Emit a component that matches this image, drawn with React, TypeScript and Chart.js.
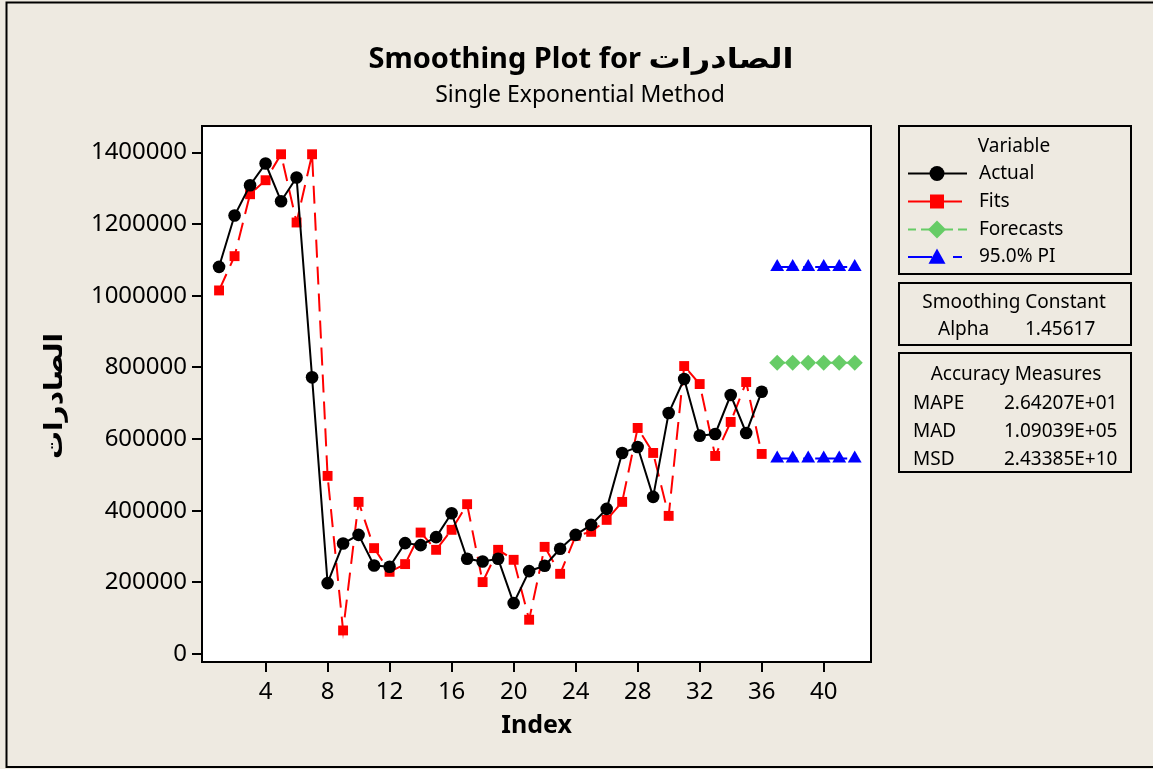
import React, { useEffect, useRef } from 'react';
import { Chart, registerables } from 'chart.js';

Chart.register(...registerables);

// ---------- data ----------
const actualIndex = [1, 2, 3, 4, 5, 6, 7, 8, 9, 10, 11, 12, 13, 14, 15, 16, 17, 18, 19, 20, 21, 22, 23, 24, 25, 26, 27, 28, 29, 30, 31, 32, 33, 34, 35, 36];
const actualValues = [1081000, 1224300, 1308800, 1369300, 1264200, 1330300, 772500, 198000, 308400, 332700, 247100, 243500, 309600, 304000, 326300, 393200, 265800, 258200, 265800, 142200, 231500, 246300, 293700, 332700, 360600, 405200, 561400, 578100, 438700, 672900, 767800, 609600, 614400, 723100, 617200, 732400];
const fitsValues = [1015100, 1110800, 1283700, 1322800, 1395300, 1204800, 1395300, 497300, 65800, 424700, 295600, 229500, 251000, 339100, 290900, 346700, 418300, 200800, 290900, 263000, 95700, 299200, 223900, 329900, 341100, 374500, 424700, 631100, 561400, 385700, 804000, 753800, 553000, 647900, 759400, 558600];
const forecastIndex = [37, 38, 39, 40, 41, 42];
const forecastValues = [813200, 813200, 813200, 813200, 813200, 813200];
const upperPIValues = [1080500, 1080500, 1080500, 1080500, 1080500, 1080500];
const lowerPIValues = [545900, 545900, 545900, 545900, 545900, 545900];
const xTicks = [4, 8, 12, 16, 20, 24, 28, 32, 36, 40];
const yTicks = [0, 200000, 400000, 600000, 800000, 1000000, 1200000, 1400000];

const titleLatin = 'Smoothing Plot for ';
const titleArabic = 'الصادرات';
const subtitleText = 'Single Exponential Method';
const yTitle = 'الصادرات';
const xTitle = 'Index';
const legendNames = ['Actual', 'Fits', 'Forecasts', '95.0% PI'];
const accuracyNames = ['MAPE', 'MAD', 'MSD'];
const accuracyValues = ['2.64207E+01', '1.09039E+05', '2.43385E+10'];
const alphaValue = '1.45617';

// ---------- style ----------
const FONT = "'Noto Sans', 'DejaVu Sans', sans-serif";
const BG = '#EEEAE1';
const RED = '#FF0000';
const GREEN = '#66CC66';
const BLUE = '#0000FF';

type MarkerKind = 'circle' | 'square' | 'diamond' | 'triangle';

function drawMarker(ctx: CanvasRenderingContext2D, kind: MarkerKind, x: number, y: number, s: number, color: string) {
  ctx.save();
  ctx.fillStyle = color;
  ctx.beginPath();
  if (kind === 'circle') {
    ctx.arc(x, y, s, 0, Math.PI * 2);
  } else if (kind === 'square') {
    ctx.rect(x - s, y - s, 2 * s, 2 * s);
  } else if (kind === 'diamond') {
    ctx.moveTo(x, y - s);
    ctx.lineTo(x + s, y);
    ctx.lineTo(x, y + s);
    ctx.lineTo(x - s, y);
    ctx.closePath();
  } else {
    ctx.moveTo(x, y - s);
    ctx.lineTo(x + s, y + s * 0.8);
    ctx.lineTo(x - s, y + s * 0.8);
    ctx.closePath();
  }
  ctx.fill();
  ctx.restore();
}

function legendLine(ctx: CanvasRenderingContext2D, segs: Array<[number, number]>, y: number, color: string) {
  ctx.save();
  ctx.strokeStyle = color;
  ctx.lineWidth = 2;
  ctx.beginPath();
  for (const [a, b] of segs) {
    ctx.moveTo(a, y);
    ctx.lineTo(b, y);
  }
  ctx.stroke();
  ctx.restore();
}

const decorPlugin = {
  id: 'decor',
  beforeDraw(chart: any) {
    const { ctx, chartArea: a, width, height } = chart;
    ctx.save();
    ctx.fillStyle = BG;
    ctx.fillRect(0, 0, width, height);
    ctx.fillStyle = '#FFFFFF';
    ctx.fillRect(a.left, a.top, a.right - a.left, a.bottom - a.top);
    ctx.restore();
  },
  afterDraw(chart: any) {
    const { ctx, chartArea: a } = chart;
    ctx.save();
    // plot frame
    ctx.strokeStyle = '#000';
    ctx.lineWidth = 2;
    ctx.strokeRect(a.left, a.top, a.right - a.left, a.bottom - a.top);
    // figure frame
    ctx.strokeRect(6.5, 2.5, 1160, 764.5);

    // main title (Latin part + Arabic part, Arabic stretched to match reference width)
    ctx.fillStyle = '#000';
    ctx.textBaseline = 'alphabetic';
    ctx.textAlign = 'left';
    ctx.font = `bold 29px ${FONT}`;
    const latinW = ctx.measureText(titleLatin).width;
    ctx.font = `bold 28px ${FONT}`;
    const arW = ctx.measureText(titleArabic).width;
    const arSx = Math.min(1.35, 145 / arW);
    const total = latinW + arW * arSx;
    const startX = 581 - total / 2;
    ctx.font = `bold 29px ${FONT}`;
    ctx.fillText(titleLatin, startX, 68);
    ctx.save();
    ctx.translate(startX + latinW, 68);
    ctx.scale(arSx, 1);
    ctx.font = `bold 28px ${FONT}`;
    ctx.fillText(titleArabic, 0, 0);
    ctx.restore();

    ctx.textAlign = 'center';
    ctx.font = `23px ${FONT}`;
    ctx.fillText(subtitleText, 580, 102);

    // y-axis title
    ctx.save();
    ctx.font = `bold 25px ${FONT}`;
    const yw = ctx.measureText(yTitle).width;
    const ysx = Math.min(1.35, 126 / yw);
    ctx.translate(55, 396);
    ctx.rotate(-Math.PI / 2);
    ctx.scale(ysx, 1);
    ctx.textAlign = 'center';
    ctx.textBaseline = 'middle';
    ctx.fillText(yTitle, 0, 0);
    ctx.restore();

    // legend boxes
    ctx.lineWidth = 2;
    ctx.strokeRect(899, 126, 232, 148);
    ctx.strokeRect(899, 283, 232, 62);
    ctx.strokeRect(899, 353, 232, 119);

    ctx.font = `19px ${FONT}`;
    ctx.textBaseline = 'middle';
    ctx.textAlign = 'center';
    ctx.fillText('Variable', 1014, 147);
    ctx.fillText('Smoothing Constant', 1014, 303);
    ctx.fillText('Accuracy Measures', 1016, 375);

    const rows = [173.5, 201.5, 229.5, 257];
    legendLine(ctx, [[908, 967]], rows[0], '#000');
    drawMarker(ctx, 'circle', 937, rows[0], 7.5, '#000');
    legendLine(ctx, [[908, 962]], rows[1], RED);
    drawMarker(ctx, 'square', 937, rows[1], 7, RED);
    legendLine(ctx, [[908, 916], [921, 930], [945, 953], [958, 967]], rows[2], GREEN);
    drawMarker(ctx, 'diamond', 937, rows[2], 9, GREEN);
    legendLine(ctx, [[908, 932], [953, 962]], rows[3], BLUE);
    drawMarker(ctx, 'triangle', 937, rows[3], 8.5, BLUE);

    ctx.textAlign = 'left';
    legendNames.forEach((n, i) => ctx.fillText(n, 979, rows[i]));

    ctx.fillText('Alpha', 938, 330);
    ctx.fillText(alphaValue, 1025, 330);

    const accRows = [403.5, 431.5, 459.5];
    accuracyNames.forEach((n, i) => {
      ctx.fillText(n, 913, accRows[i]);
      ctx.fillText(accuracyValues[i], 1004, accRows[i]);
    });
    ctx.restore();
  },
};

export default function App() {
  const ref = useRef<HTMLCanvasElement | null>(null);

  useEffect(() => {
    document.body.style.margin = '0';
    const canvas = ref.current;
    if (!canvas) return;

    const toXY = (xs: number[], ys: number[]) => xs.map((x, i) => ({ x, y: ys[i] }));

    const chart = new Chart(canvas, {
      type: 'line',
      data: {
        datasets: [
          {
            label: 'Actual',
            data: toXY(actualIndex, actualValues),
            borderColor: '#000',
            backgroundColor: '#000',
            borderWidth: 2,
            pointStyle: 'circle',
            pointRadius: 6.3,
            pointBorderWidth: 0,
            order: 1,
          },
          {
            label: 'Fits',
            data: toXY(actualIndex, fitsValues),
            borderColor: RED,
            backgroundColor: RED,
            borderWidth: 2,
            borderDash: [18, 9],
            pointStyle: 'rect',
            pointRadius: 7,
            pointBorderWidth: 0,
            order: 2,
          },
          {
            label: 'Forecasts',
            data: toXY(forecastIndex, forecastValues),
            borderColor: GREEN,
            backgroundColor: GREEN,
            borderWidth: 2,
            borderDash: [8, 5],
            pointStyle: 'rectRot',
            pointRadius: 8,
            pointBorderWidth: 0,
          },
          {
            label: 'Upper PI',
            data: toXY(forecastIndex, upperPIValues),
            borderColor: BLUE,
            backgroundColor: BLUE,
            borderWidth: 2,
            borderDash: [20, 6, 6, 6],
            pointStyle: 'triangle',
            pointRadius: 8,
            pointBorderWidth: 0,
          },
          {
            label: 'Lower PI',
            data: toXY(forecastIndex, lowerPIValues),
            borderColor: BLUE,
            backgroundColor: BLUE,
            borderWidth: 2,
            borderDash: [20, 6, 6, 6],
            pointStyle: 'triangle',
            pointRadius: 8,
            pointBorderWidth: 0,
          },
        ],
      },
      options: {
        responsive: false,
        animation: false,
        devicePixelRatio: 1,
        layout: { padding: { left: 0, right: 282, top: 126, bottom: 0 } },
        plugins: {
          legend: { display: false },
          title: { display: false },
          tooltip: { enabled: false },
        },
        elements: { line: { tension: 0, fill: false } },
        scales: {
          x: {
            type: 'linear',
            min: -0.1,
            max: 43.05,
            afterFit: (s: any) => { s.height = 107; },
            afterBuildTicks: (s: any) => { s.ticks = xTicks.map((v) => ({ value: v })); },
            border: { display: false },
            grid: {
              drawOnChartArea: false,
              drawTicks: true,
              tickLength: 10,
              color: '#000',
              tickColor: '#000',
              lineWidth: 2,
            },
            ticks: {
              color: '#000',
              font: { family: FONT, size: 24 },
              padding: 6,
              maxRotation: 0,
              autoSkip: false,
              callback: (v: any) => String(v),
            },
            title: {
              display: true,
              text: xTitle,
              color: '#000',
              font: { family: FONT, size: 25, weight: 'bold' },
              padding: { top: 0, bottom: 28 },
            },
          },
          y: {
            type: 'linear',
            min: -22300,
            max: 1474200,
            afterFit: (s: any) => { s.width = 202; },
            afterBuildTicks: (s: any) => { s.ticks = yTicks.map((v) => ({ value: v })); },
            border: { display: false },
            grid: {
              drawOnChartArea: false,
              drawTicks: true,
              tickLength: 10,
              color: '#000',
              tickColor: '#000',
              lineWidth: 2,
            },
            ticks: {
              color: '#000',
              font: { family: FONT, size: 24 },
              padding: 5,
              autoSkip: false,
              callback: (v: any) => String(v),
            },
            title: { display: false },
          },
        },
      },
      plugins: [decorPlugin],
    } as any);

    return () => chart.destroy();
  }, []);

  return (
    <div style={{ width: 1153, height: 769 }}>
      <canvas ref={ref} width={1153} height={769} style={{ display: 'block' }} />
    </div>
  );
}
